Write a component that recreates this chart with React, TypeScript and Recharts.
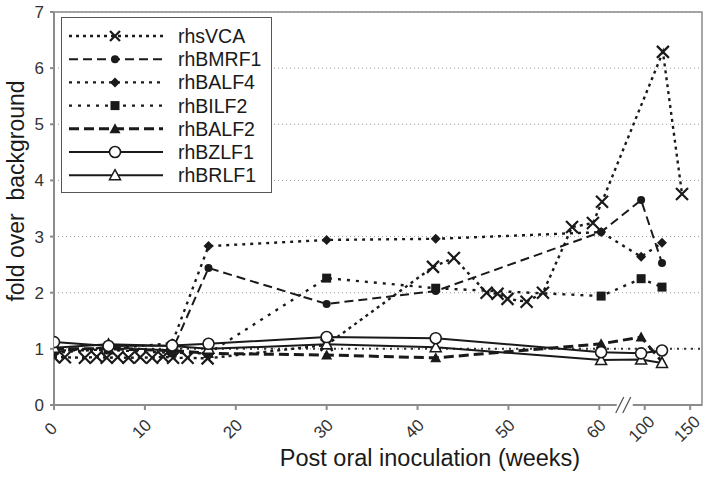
import React from "react";
import {
  LineChart,
  Line,
  XAxis,
  YAxis,
  CartesianGrid,
  ReferenceLine,
  ReferenceArea,
  ReferenceDot,
} from "recharts";

// x values are positions on the broken axis: weeks up to 60, then 65 = "100" and 70 = "150"
const xTickPositions = [0, 10, 20, 30, 40, 50, 60, 65, 70];
const xTickLabels = ["0", "10", "20", "30", "40", "50", "60", "100", "150"];
const yTicks = [0, 1, 2, 3, 4, 5, 6, 7];

const vcaWeeks = [
  0, 1.2, 3.4, 4.7, 5.8, 7, 8.2, 9.5, 10.8, 12, 13.1, 14.7, 16.9, 30, 41.7, 44,
  47.6, 48.8, 49.9, 52, 53.8, 57.0, 59.3, 60.3, 67.0, 69.1,
];
const vcaFold = [
  0.85, 0.85, 0.84, 0.86, 0.84, 0.85, 0.84, 0.85, 0.84, 0.86, 0.84, 0.84, 0.83,
  1.07, 2.46, 2.62, 2.0, 1.98, 1.89, 1.84, 2.0, 3.17, 3.24, 3.62, 6.29, 3.76,
];

const geneWeeks = [0, 6, 13, 17, 30, 42, 60.2, 64.6, 66.9];
const bmrf1 = [0.95, 1.03, 0.97, 2.44, 1.8, 2.03, 3.08, 3.65, 2.53];
const balf4 = [0.93, 1.0, 1.1, 2.83, 2.94, 2.96, 3.08, 2.64, 2.89];
const bilf2 = [0.97, 0.98, 0.93, 0.92, 2.26, 2.08, 1.94, 2.25, 2.1];
const balf2 = [1.0, 1.0, 0.97, 0.92, 0.89, 0.84, 1.09, 1.21, 0.77];
const bzlf1 = [1.12, 1.05, 1.06, 1.09, 1.21, 1.19, 0.94, 0.92, 0.97];
const brlf1 = [1.02, 1.08, 1.05, 1.0, 1.08, 1.03, 0.8, 0.81, 0.75];

const ink = "#1a1a1a";
const font = "'Liberation Sans', Arial, sans-serif";

type Kind = "x" | "dot" | "diamond" | "square" | "tri" | "ocircle" | "otri";

const Marker = ({ kind, cx, cy, big }: { kind: Kind; cx: number; cy: number; big?: boolean }) => {
  if (cx == null || cy == null) return null;
  switch (kind) {
    case "x": {
      const s = big ? 6 : 5;
      return (
        <path
          d={`M${cx - s},${cy - s}L${cx + s},${cy + s}M${cx - s},${cy + s}L${cx + s},${cy - s}`}
          stroke={ink}
          strokeWidth={2.2}
          fill="none"
        />
      );
    }
    case "dot":
      return <circle cx={cx} cy={cy} r={4} fill={ink} />;
    case "diamond":
      return (
        <path d={`M${cx},${cy - 5}L${cx + 5},${cy}L${cx},${cy + 5}L${cx - 5},${cy}Z`} fill={ink} />
      );
    case "square":
      return <rect x={cx - 4.5} y={cy - 4.5} width={9} height={9} fill={ink} />;
    case "tri":
      return (
        <path d={`M${cx},${cy - 5.5}L${cx + 5.5},${cy + 4.5}L${cx - 5.5},${cy + 4.5}Z`} fill={ink} />
      );
    case "ocircle":
      return <circle cx={cx} cy={cy} r={5.5} fill="#fff" stroke={ink} strokeWidth={1.6} />;
    case "otri":
      return (
        <path
          d={`M${cx},${cy - 5.5}L${cx + 5.5},${cy + 4.5}L${cx - 5.5},${cy + 4.5}Z`}
          fill="#fff"
          stroke={ink}
          strokeWidth={1.5}
        />
      );
  }
  return null;
};

const dotOf = (kind: Kind) => (p: any) => (
  <g key={`${kind}-${p.index}`}>
    <Marker kind={kind} cx={p.cx} cy={p.cy} big />
  </g>
);

const series = [
  { name: "rhsVCA", weeks: vcaWeeks, values: vcaFold, kind: "x" as Kind, dash: "3 4", width: 2.4 },
  { name: "rhBMRF1", weeks: geneWeeks, values: bmrf1, kind: "dot" as Kind, dash: "9 5", width: 2 },
  { name: "rhBALF4", weeks: geneWeeks, values: balf4, kind: "diamond" as Kind, dash: "3 5", width: 2.4 },
  { name: "rhBILF2", weeks: geneWeeks, values: bilf2, kind: "square" as Kind, dash: "3 6", width: 2.4 },
  { name: "rhBALF2", weeks: geneWeeks, values: balf2, kind: "tri" as Kind, dash: "10 5", width: 3 },
  { name: "rhBZLF1", weeks: geneWeeks, values: bzlf1, kind: "ocircle" as Kind, dash: undefined, width: 2 },
  { name: "rhBRLF1", weeks: geneWeeks, values: brlf1, kind: "otri" as Kind, dash: undefined, width: 2 },
];

const drawOrder = ["rhsVCA", "rhBALF4", "rhBILF2", "rhBMRF1", "rhBALF2", "rhBRLF1", "rhBZLF1"];

const LegendBox = () => (
  <div
    style={{
      position: "absolute",
      left: 61,
      top: 17,
      width: 209,
      height: 174,
      border: "1.5px solid #555",
      background: "#fff",
    }}
  >
    <svg width={209} height={174} style={{ display: "block" }}>
      {series.map((s, i) => {
        const y = 18 + i * 23.2;
        return (
          <g key={s.name}>
            <line x1={7} x2={101} y1={y} y2={y} stroke={ink} strokeWidth={s.width} strokeDasharray={s.dash} />
            <Marker kind={s.kind} cx={53} cy={y} />
            <text x={116} y={y} dominantBaseline="central" fontSize={19.5} fill={ink} fontFamily={font}>
              {s.name}
            </text>
          </g>
        );
      })}
    </svg>
  </div>
);

const XTick = (props: any) => {
  const { x, y, index } = props;
  const cx = x - 3;
  const cy = y + 19;
  return (
    <text
      x={cx}
      y={cy}
      transform={`rotate(-45 ${cx} ${cy})`}
      textAnchor="middle"
      dominantBaseline="central"
      fontSize={17}
      fill="#333"
      fontFamily={font}
    >
      {xTickLabels[index]}
    </text>
  );
};

const BreakMark = (p: any) => {
  const { cx, cy } = p;
  if (cx == null) return null;
  return (
    <g>
      <rect x={cx - 8} y={cy - 3} width={16} height={6} fill="#fff" />
      <line x1={cx - 9} y1={cy + 8} x2={cx - 1} y2={cy - 8} stroke="#555" strokeWidth={1.3} />
      <line x1={cx - 2} y1={cy + 8} x2={cx + 6} y2={cy - 8} stroke="#555" strokeWidth={1.3} />
    </g>
  );
};

export default function App() {
  return (
    <div style={{ position: "absolute", left: 0, top: 0, width: 709, height: 478, background: "#fff" }}>
      <LineChart
        width={709}
        height={478}
        margin={{ top: 12, right: 7, bottom: 0, left: 0 }}
        style={{ fontFamily: font }}
      >
        <CartesianGrid horizontal vertical={false} stroke="#9a9a9a" strokeDasharray="1 3" />
        <ReferenceArea
          x1={0}
          x2={71.3}
          y1={0}
          y2={7}
          fill="none"
          stroke="#8a8a8a"
          strokeWidth={1.5}
          ifOverflow="visible"
        />
        <XAxis
          type="number"
          dataKey="x"
          domain={[0, 71.3]}
          ticks={xTickPositions}
          interval={0}
          height={73}
          tickSize={5}
          tickMargin={0}
          tick={<XTick />}
          stroke="#8c8c8c"
          strokeWidth={2}
          allowDataOverflow
          label={{
            content: () => (
              <text x={430} y={466} textAnchor="middle" fontSize={23.5} fill={ink} fontFamily={font}>
                Post oral inoculation (weeks)
              </text>
            ),
          }}
        />
        <YAxis
          type="number"
          domain={[0, 7]}
          ticks={yTicks}
          interval={0}
          width={54}
          tickSize={4}
          tickMargin={6}
          stroke="#8c8c8c"
          strokeWidth={2}
          tick={{ fontSize: 17, fill: "#333" }}
          label={{
            content: () => (
              <text
                x={24}
                y={191}
                transform="rotate(-90 24 191)"
                textAnchor="middle"
                fontSize={23}
                fill={ink}
                fontFamily={font}
                style={{ whiteSpace: "pre" }}
              >
                {"fold over  background"}
              </text>
            ),
          }}
        />
        <ReferenceLine y={1} stroke="#333" strokeWidth={2} strokeDasharray="2 5" />
        {drawOrder.map((n) => {
          const s = series.find((q) => q.name === n)!;
          return (
            <Line
              key={s.name}
              name={s.name}
              data={s.weeks.map((w, i) => ({ x: w, y: s.values[i] }))}
              dataKey="y"
              stroke={ink}
              strokeWidth={s.width}
              strokeDasharray={s.dash}
              dot={dotOf(s.kind)}
              activeDot={false}
              isAnimationActive={false}
            />
          );
        })}
        <ReferenceDot x={62.8} y={0} r={0} shape={BreakMark} ifOverflow="visible" />
      </LineChart>
      <LegendBox />
    </div>
  );
}
